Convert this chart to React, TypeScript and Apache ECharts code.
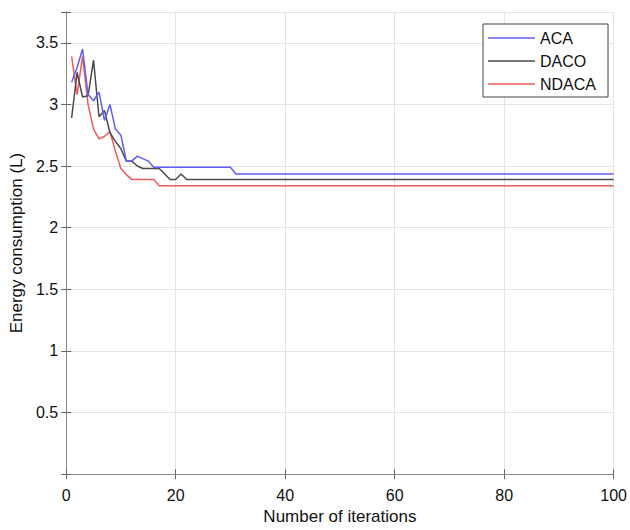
import React, { useEffect, useRef } from "react";
import * as echarts from "echarts";

const seriesNames = ["ACA", "DACO", "NDACA"];
const seriesColors = ["#5f5ff2", "#4a4a4a", "#f05a5a"];

// [iteration, energy] vertices
const acaData: number[][] = [
  [1, 3.18], [2, 3.3], [3, 3.45], [4, 3.08], [5, 3.03], [6, 3.1], [7, 2.87], [8, 3.0],
  [9, 2.8], [10, 2.75], [11, 2.54], [12, 2.54], [13, 2.58], [14, 2.56], [15, 2.54],
  [16, 2.49], [30, 2.49], [31, 2.435], [100, 2.435],
];
const dacoData: number[][] = [
  [1, 2.89], [2, 3.26], [3, 3.06], [4, 3.07], [5, 3.36], [6, 2.9], [7, 2.95], [8, 2.77],
  [9, 2.7], [10, 2.64], [11, 2.54], [12, 2.54], [13, 2.5], [14, 2.48], [17, 2.48],
  [19, 2.39], [20, 2.39], [21, 2.435], [22, 2.39], [100, 2.39],
];
const ndacaData: number[][] = [
  [1, 3.39], [2, 3.08], [3, 3.39], [4, 3.0], [5, 2.8], [6, 2.72], [7, 2.74], [8, 2.78],
  [9, 2.62], [10, 2.48], [11, 2.43], [12, 2.39], [16, 2.39], [17, 2.34], [100, 2.34],
];

const xMin = 0;
const xMax = 100;
const xInterval = 20;
const yMin = 0;
const yMax = 3.75;
const yInterval = 0.5;

const FONT = "Liberation Sans, Arial, sans-serif";

export default function App() {
  const ref = useRef<HTMLDivElement>(null);
  useEffect(() => {
    if (!ref.current) return;
    const chart = echarts.init(ref.current, undefined, { renderer: "svg" });
    const yFmt = (v: number) => {
      if (v <= 0) return "";
      const k = v / yInterval;
      if (Math.abs(k - Math.round(k)) > 1e-6) return "";
      return String(Math.round(v * 10) / 10);
    };
    const axisLine = { show: true, lineStyle: { color: "#888", width: 1 } };
    const axisTick = { show: true, inside: true, length: 5, lineStyle: { color: "#666" } };
    const splitLine = { show: true, lineStyle: { color: "#e4e4e4", width: 1 } };
    const allData = [acaData, dacoData, ndacaData];
    chart.setOption({
      animation: false,
      backgroundColor: "#fff",
      textStyle: { fontFamily: FONT },
      grid: { left: 64, right: 15, top: 12, bottom: 51, containLabel: false },
      legend: {
        orient: "vertical",
        left: 483,
        top: 24,
        data: seriesNames,
        icon: "rect",
        itemWidth: 47,
        itemHeight: 1.5,
        itemGap: 7,
        padding: [6, 12, 5, 5],
        borderColor: "#444",
        borderWidth: 1,
        backgroundColor: "#fff",
        textStyle: { fontSize: 16, lineHeight: 14, color: "#111", fontFamily: FONT },
      },
      xAxis: [
        {
          type: "value",
          min: xMin,
          max: xMax,
          interval: xInterval,
          position: "bottom",
          name: "Number of iterations",
          nameLocation: "middle",
          nameGap: 31,
          nameTextStyle: { fontSize: 17, color: "#111", fontFamily: FONT },
          axisLine,
          axisTick,
          splitLine,
          axisLabel: { fontSize: 16, color: "#111", margin: 13, fontFamily: FONT },
        },
        {
          type: "value",
          min: xMin,
          max: xMax,
          interval: xInterval,
          position: "top",
          axisLine,
          axisTick,
          splitLine: { show: false },
          axisLabel: { show: false },
        },
      ],
      yAxis: [
        {
          type: "value",
          min: yMin,
          max: yMax,
          interval: yInterval,
          position: "left",
          name: "Energy consumption (L)",
          nameLocation: "middle",
          nameGap: 37,
          nameTextStyle: { fontSize: 17, color: "#111", fontFamily: FONT },
          axisLine,
          axisTick,
          splitLine,
          axisLabel: { fontSize: 16, color: "#111", margin: 8, formatter: yFmt, fontFamily: FONT },
        },
        {
          type: "value",
          min: yMin,
          max: yMax,
          interval: yInterval,
          position: "right",
          axisLine,
          axisTick,
          splitLine: { show: false },
          axisLabel: { show: false },
        },
      ],
      series: seriesNames.map((name, i) => ({
        name,
        type: "line",
        data: allData[i],
        symbol: "none",
        showSymbol: false,
        color: seriesColors[i],
        itemStyle: { color: seriesColors[i] },
        lineStyle: { color: seriesColors[i], width: 1.5 },
        z: 3 - i,
      })),
    });
    return () => chart.dispose();
  }, []);
  return (
    <div
      ref={ref}
      style={{ position: "fixed", left: 0, top: 0, width: 630, height: 530, background: "#fff" }}
    />
  );
}
